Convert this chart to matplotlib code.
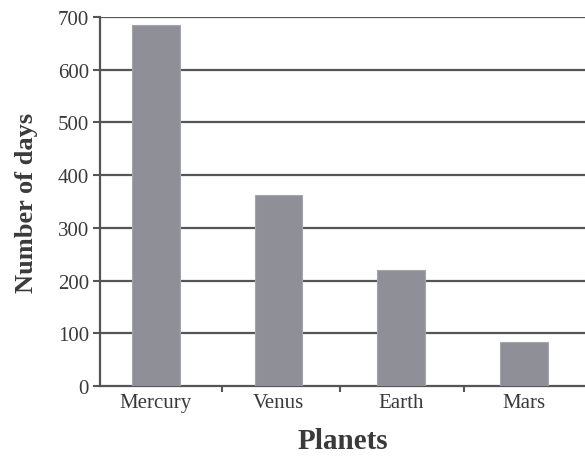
import matplotlib
matplotlib.use("Agg")
import matplotlib.pyplot as plt

planets = ["Mercury", "Venus", "Earth", "Mars"]
days = [685, 362, 220, 83]
yticks = [0, 100, 200, 300, 400, 500, 600, 700]

plt.rcParams['font.family'] = ['Liberation Serif', 'DejaVu Serif']

fig = plt.figure(figsize=(5.85, 4.64), dpi=100)
ax = fig.add_axes([0.171, 0.166, 0.829, 0.795])

x = list(range(len(planets)))
ax.bar(x, days, width=0.39, color="#8f8f98", edgecolor="#a5a5ad", linewidth=0.8, zorder=3)

ax.set_xlim(-0.455, 3.5)
ax.set_ylim(0, 700)
ax.set_yticks(yticks)
ax.set_yticklabels([str(v) for v in yticks], fontsize=15, color="#3a3a3a")
for v in yticks[1:]:
    ax.axhline(v, color="#555555", linewidth=1.6, zorder=1)

ax.set_xticks(x)
ax.set_xticklabels(planets, fontsize=15, color="#3a3a3a")
ax.tick_params(axis='x', length=0, pad=5)
ax.set_xticks([0.54, 1.5, 2.51], minor=True)
ax.tick_params(axis='x', which='minor', length=4, width=1.5, color="#555555", direction='out')
ax.tick_params(axis='y', length=5, width=1.5, color="#555555", pad=3)

for s in ["top", "right"]:
    ax.spines[s].set_visible(False)
ax.spines["left"].set_color("#555555")
ax.spines["left"].set_linewidth(1.6)
ax.spines["bottom"].set_color("#555555")
ax.spines["bottom"].set_linewidth(1.6)

ax.set_ylabel("Number of days", fontsize=19, fontweight="bold", color="#3a3a3a", labelpad=14)
ax.set_xlabel("Planets", fontsize=21, fontweight="bold", color="#3a3a3a", labelpad=11)

fig.savefig("out.png", dpi=100)
